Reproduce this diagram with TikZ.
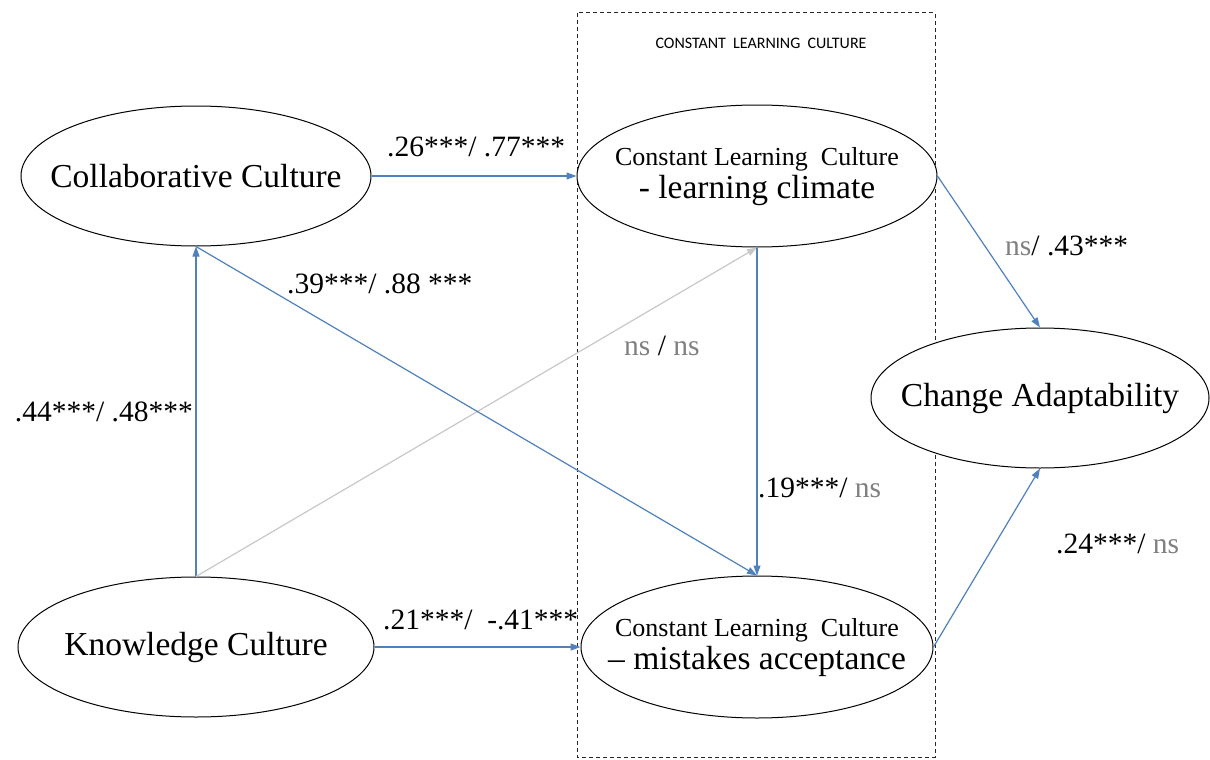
\documentclass[tikz,border=0pt]{standalone}
\usepackage{fontspec}
\setmainfont{Liberation Serif}
\newfontfamily\titlefont{Carlito}
\newfontfamily\serifnum[Ligatures=TeX]{Liberation Serif}
\usetikzlibrary{shapes.geometric,arrows.meta}
\definecolor{arrowblue}{RGB}{79,129,189}
\definecolor{lightarrow}{RGB}{200,200,200}
\definecolor{nsgray}{RGB}{128,128,128}
\newcommand{\nsg}{\textcolor{nsgray}{ns}}
\begin{document}
\begin{tikzpicture}[x=1pt,y=-1pt,
  latent/.style={ellipse, draw=black, line width=1pt, fill=white, inner sep=0pt,
    font=\serifnum\fontsize{33.5}{30}\selectfont},
  effect/.style={draw=arrowblue, line width=1.2pt, -{Triangle[length=10pt,width=7pt]}},
  weak/.style={draw=lightarrow, line width=1.2pt, -{Triangle[length=10pt,width=7pt]}},
  lbl/.style={inner sep=0pt, font=\serifnum\fontsize{29.5}{32}\selectfont},
  frame/.style={draw=black!85, line width=1pt, dash pattern=on 4pt off 3pt}
]
\useasboundingbox (0,0) rectangle (1210,760);
\fill[white] (0,0) rectangle (1210,760);

% dashed frame
\draw[frame] (577,13) rectangle (935,757);
\node[inner sep=0pt, font=\titlefont\fontsize{16}{18}\selectfont] (title) at (761,43) {CONSTANT\ \ LEARNING\ \ CULTURE};

% latent variables
\node[latent, minimum width=350pt, minimum height=140pt] (CC) at (196,176)
  {\makebox[0pt]{Collaborative Culture}};
\node[latent, minimum width=356pt, minimum height=140pt] (KC) at (196,647)
  {\makebox[0pt]{Knowledge Culture}};
\node[latent, minimum width=360pt, minimum height=142pt] (LC) at (757,176)
  {\makebox[0pt]{\raisebox{6pt}{\begin{tabular}{@{}c@{}}{\fontsize{26}{30}\selectfont Constant Learning\ \ Culture}\\ - learning climate\end{tabular}}}};
\node[latent, minimum width=352pt, minimum height=142pt] (MA) at (757,647)
  {\makebox[0pt]{\raisebox{6pt}{\begin{tabular}{@{}c@{}}{\fontsize{26}{30}\selectfont Constant Learning\ \ Culture}\\ – mistakes acceptance\end{tabular}}}};
\node[latent, minimum width=338pt, minimum height=140pt] (CA) at (1040,398)
  {\makebox[0pt]{Change Adaptability}};

% paths
\draw[effect] (CC.east) -- (LC.west);
\draw[effect] (KC.north) -- (CC.south);
\draw[weak] (KC.north) -- (LC.south);
\draw[effect] (CC.south) -- (MA.north);
\draw[effect] (LC.south) -- (MA.north);
\draw[effect] (KC.east) -- (MA.west);
\draw[effect] (LC.east) -- (CA.north);
\draw[effect] (MA.east) -- (CA.south);

% coefficients
\node[lbl, anchor=base west] (l1) at (387,156) {.26***/ .77***};
\node[lbl, anchor=base east] (l2) at (193,421) {.44***/ .48***};
\node[lbl, anchor=base west] (l3) at (287,293) {.39***/ .88 ***};
\node[lbl, anchor=base west] (l4) at (624,355) {\nsg{} / \nsg};
\node[lbl, anchor=base west] (l5) at (758,497) {.19***/ \nsg};
\node[lbl, anchor=base west] (l6) at (383,629) {.21***/~ -.41***};
\node[lbl, anchor=base west] (l7) at (1005,255) {\nsg/ .43***};
\node[lbl, anchor=base west] (l8) at (1056,553) {.24***/ \nsg};
\end{tikzpicture}
\end{document}
